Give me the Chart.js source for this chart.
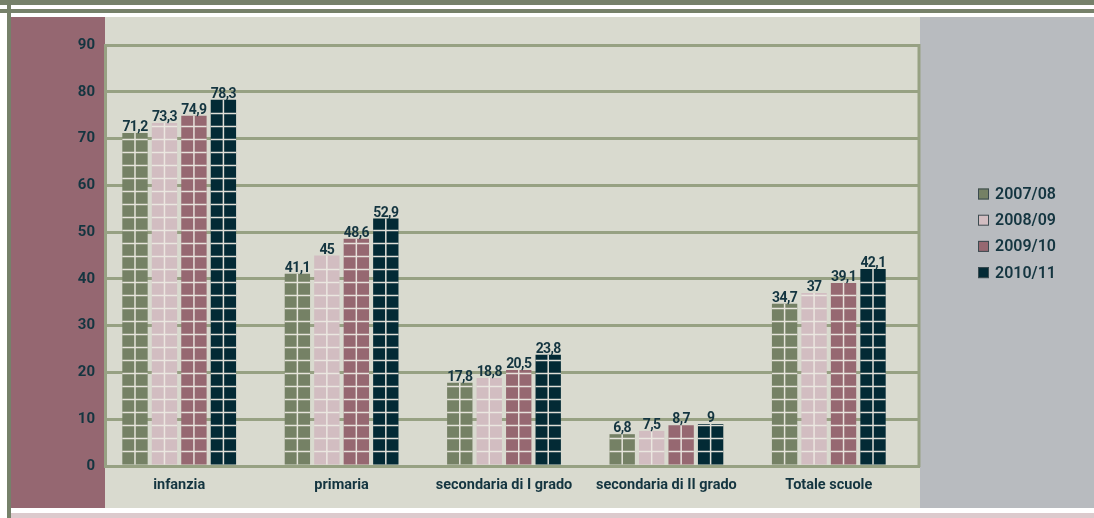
<!DOCTYPE html>
<html lang="it">
<head>
<meta charset="utf-8">
<title>Scuole</title>
<script src="https://cdn.jsdelivr.net/npm/chart.js@4.4.0/dist/chart.umd.min.js"></script>
<style>
  html, body { margin: 0; padding: 0; background: #ffffff; }
  #wrap { width: 1094px; height: 518px; position: relative; }
</style>
</head>
<body>
<div id="wrap"><canvas id="chartScuole"></canvas></div>
<script>
const categories = ["infanzia", "primaria", "secondaria di I grado", "secondaria di II grado", "Totale scuole"];
const years = ["2007/08", "2008/09", "2009/10", "2010/11"];
const serie0708 = [71.2, 41.1, 17.8, 6.8, 34.7];
const serie0809 = [73.3, 45, 18.8, 7.5, 37];
const serie0910 = [74.9, 48.6, 20.5, 8.7, 39.1];
const serie1011 = [78.3, 52.9, 23.8, 9, 42.1];
const yMax = 90;
const yStep = 10;

const colori = ["#758165", "#d2bdc1", "#966871", "#032a35"];
const testo = "#143540";
const verdeGriglia = "#97a183";
const font = "Roboto, 'Liberation Sans', sans-serif";

const formatVal = (v) => String(v).replace(".", ",");

// panels, top stripes and frame around the plot
const sfondo = {
  id: "sfondo",
  beforeDraw: (chart) => {
    const { ctx, width, height, chartArea } = chart;
    const { left, right } = chartArea;
    ctx.save();
    ctx.fillStyle = "#ffffff";
    ctx.fillRect(0, 0, width, height);
    ctx.fillStyle = "#76816a";
    ctx.fillRect(0, 0, width, 5);
    ctx.fillRect(0, 9, width, 4);
    ctx.fillRect(7, 0, 4, height);
    ctx.fillStyle = "#956771";
    ctx.fillRect(11, 17, left - 11, 491);
    ctx.fillStyle = "#d9dacf";
    ctx.fillRect(left, 17, right - left, 491);
    ctx.fillStyle = "#b8bbbf";
    ctx.fillRect(right, 17, width - right, 491);
    ctx.fillStyle = "#dccacd";
    ctx.fillRect(11, 513, width - 11, 5);
    ctx.restore();
  },
  beforeDatasetsDraw: (chart) => {
    const { ctx, chartArea } = chart;
    ctx.save();
    ctx.strokeStyle = verdeGriglia;
    ctx.lineWidth = 3;
    ctx.beginPath();
    ctx.moveTo(chartArea.right - 1, chartArea.top - 1);
    ctx.lineTo(chartArea.right - 1, chartArea.bottom + 1);
    ctx.stroke();
    ctx.restore();
  },
};

// category band sits a little left of the framed area
const spostaAsse = {
  id: "spostaAsse",
  afterLayout: (chart) => {
    const x = chart.scales.x;
    x.left = chart.chartArea.left - 7;
    x.right = chart.chartArea.right - 10;
    x.width = x.right - x.left;
    x.configure();
  },
};

// tiled look of the bars + value labels
const tessere = {
  id: "tessere",
  afterDatasetsDraw: (chart) => {
    const { ctx } = chart;
    ctx.save();
    ctx.strokeStyle = "rgba(236, 233, 226, 0.95)";
    ctx.lineWidth = 1.5;
    chart.data.datasets.forEach((ds, i) => {
      chart.getDatasetMeta(i).data.forEach((bar) => {
        ctx.beginPath();
        ctx.moveTo(bar.x, bar.y);
        ctx.lineTo(bar.x, bar.base);
        for (let yy = bar.base - 13; yy > bar.y + 1; yy -= 13) {
          ctx.moveTo(bar.x - bar.width / 2, yy);
          ctx.lineTo(bar.x + bar.width / 2, yy);
        }
        ctx.stroke();
      });
    });
    ctx.fillStyle = testo;
    ctx.font = `bold 14px ${font}`;
    ctx.letterSpacing = "-0.6px";
    ctx.textAlign = "center";
    ctx.textBaseline = "alphabetic";
    chart.data.datasets.forEach((ds, i) => {
      chart.getDatasetMeta(i).data.forEach((bar, j) => {
        ctx.fillText(formatVal(ds.data[j]), bar.x, bar.y - 2);
      });
    });
    ctx.restore();
  },
  afterDraw: (chart) => {
    const { ctx, chartArea } = chart;
    const x0 = chartArea.right + 58;
    ctx.save();
    ctx.font = `600 16px ${font}`;
    ctx.textBaseline = "middle";
    ctx.textAlign = "left";
    chart.data.datasets.forEach((ds, i) => {
      const cy = 194 + i * 26.2;
      ctx.fillStyle = ds.backgroundColor;
      ctx.fillRect(x0, cy - 5.5, 11, 11);
      ctx.strokeStyle = "#3b4b50";
      ctx.lineWidth = 1;
      ctx.strokeRect(x0 + 0.5, cy - 5, 10, 10);
      ctx.fillStyle = testo;
      ctx.fillText(ds.label, x0 + 17, cy + 1);
    });
    ctx.restore();
  },
};

const generateChart = (id) => {
  const serie = [serie0708, serie0809, serie0910, serie1011];
  const data = {
    labels: categories,
    datasets: serie.map((valori, i) => ({
      label: years[i],
      data: valori,
      backgroundColor: colori[i],
      borderWidth: 0,
      categoryPercentage: 0.726,
      barPercentage: 0.86,
    })),
  };

  const options = {
    responsive: false,
    animation: false,
    layout: {
      padding: { top: 45, right: 174, bottom: 10, left: 0 },
    },
    scales: {
      x: {
        grid: { display: false },
        border: { display: false },
        ticks: {
          color: testo,
          padding: 3,
          maxRotation: 0,
          autoSkip: false,
          font: { family: font, size: 14.5, weight: "bold" },
        },
        afterFit: (scale) => {
          scale.height = 42;
        },
      },
      y: {
        min: 0,
        max: yMax,
        grid: {
          color: verdeGriglia,
          lineWidth: 3,
          drawTicks: false,
        },
        border: { color: verdeGriglia, width: 3 },
        ticks: {
          stepSize: yStep,
          color: testo,
          padding: 10,
          font: { family: font, size: 15, weight: "bold" },
        },
        afterFit: (scale) => {
          scale.width = 105;
        },
      },
    },
    plugins: {
      legend: { display: false },
      tooltip: { enabled: false },
    },
  };

  const canvas = document.getElementById(id);
  canvas.width = 1094;
  canvas.height = 518;
  new Chart(canvas, {
    type: "bar",
    data: data,
    options: options,
    plugins: [sfondo, spostaAsse, tessere],
  });
};

generateChart("chartScuole");
</script>
</body>
</html>
